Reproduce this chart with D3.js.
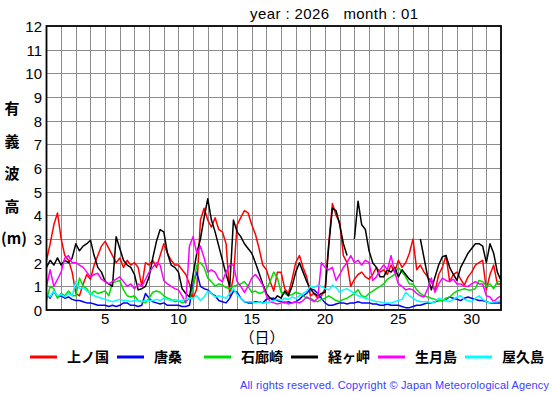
<!DOCTYPE html>
<html>
<head>
<meta charset="utf-8">
<script src="https://cdn.jsdelivr.net/npm/d3@7"></script>
<style>
  body { margin: 0; background: #fff; }
  text { font-family: "Liberation Sans", Arial, sans-serif; }
  .jp { font-family: "Noto Sans CJK JP", sans-serif; }
</style>
</head>
<body>
<svg id="chart" width="555" height="395"></svg>
<script>
// stations (legend order) and their colours
const stations = ["上ノ国", "唐桑", "石廊崎", "経ヶ岬", "生月島", "屋久島"];
const colors = ["#ff0000", "#0000ff", "#00dd00", "#000000", "#ff00ff", "#00ffff"];
const yTicks = [0, 1, 2, 3, 4, 5, 6, 7, 8, 9, 10, 11, 12];
const xTicks = [5, 10, 15, 20, 25, 30];
const yLabel = ["有", "義", "波", "高", "(m)"];

// significant wave height (m), every 6 hours from day 1 00h to day 32 00h
const kaminokuni = [
  2.1, 2.8, 3.6, 4.1,  3.0, 2.3, 2.1, 1.6,  0.7, 0.6, 1.1, 1.5,  1.3, 1.9, 2.3, 2.7,
  2.9, 2.6, 2.3, 2.0,  2.2, 1.8, 2.1, 1.9,  2.0, 1.8, 1.0, 2.0,  1.9, 2.1, 1.8, 2.3,
  2.8, 2.4, 2.1, 1.9,  1.9, 1.7, 1.5, 1.1,  0.5, 0.9, 3.8, 4.3,  3.8, 3.5, 3.9, 3.4,
  3.3, 2.8, 0.6, 1.4,  3.6, 3.9, 4.2, 4.1,  3.6, 3.2, 2.6, 1.9,  1.7, 1.2, 0.8, 1.6,
  1.6, 0.9, 0.7, 1.3,  2.0, 2.3, 1.8, 1.4,  0.6, 0.7, 0.5, 0.6,  0.9, 2.8, 4.5, 4.0,
  3.7, 2.3, 2.0, 1.0,  1.3, 1.5, 1.6, 1.4,  1.3, 1.5, 1.8, 1.6,  1.7, 1.5, 1.9, 1.6,
  2.1, 1.8, 2.0, 2.4,  3.0, 1.7, 1.9, 1.6,  1.4, 1.2, 0.8, 1.5,  1.8, 2.3, 1.2, 1.5,
  1.6, 1.3, 1.05, 1.4, 1.6, 1.9, 2.0, 2.1,  0.85, 1.5, 1.9, 1.1,  1.1
];
const karakuwa = [
  0.7, 0.5, 0.8, 0.55, 0.6, 0.5, 0.55, 0.45, 0.4, 0.4, 0.35, 0.3, 0.3, 0.25, 0.2, 0.2,
  0.2, 0.15, 0.2, 0.15, 0.2, 0.3, 0.3, 0.2,  0.2, 0.15, 0.2, 0.7,  0.5, 0.35, 0.3, 0.25,
  0.3, 0.2, 0.2, 0.2,  0.2, 0.15, 0.15, 0.2, 1.1, 1.6, 1.0, 0.9,  0.85, 0.7, 0.6, 0.4,
  0.35, 0.3, 0.5, 0.8, 0.75, 0.5, 0.35, 0.3, 0.3, 0.35, 0.35, 0.3, 0.45, 0.5, 0.5, 0.4,
  0.35, 0.3, 0.35, 0.3, 0.35, 0.45, 0.6, 0.7, 0.9, 0.85, 0.7, 0.5, 0.3, 0.2, 0.2, 0.25,
  0.3, 0.3, 0.25, 0.3, 0.3, 0.35, 0.3, 0.3,  0.3, 0.25, 0.25, 0.2, 0.2, 0.25, 0.2, 0.2,
  0.2, 0.15, 0.1, 0.1, 0.15, 0.2, 0.2, 0.25, 0.3, 0.3, 0.35, 0.4,  0.4, 0.45, 0.55, 0.5,
  0.45, 0.4, 0.5, 0.55, 0.5, 0.45, 0.4, 0.4, 0.35, 0.3, 0.3, 0.3,  0.3
];
const irouzaki = [
  0.4, 1.0, 0.9, 0.5,  0.7, 0.6, 0.8, 0.6,  0.6, 1.35, 1.0, 0.9, 0.65, 0.8, 0.7, 0.75,
  0.8, 0.6, 1.15, 1.2, 1.25, 0.85, 0.6, 0.55, 0.6, 0.4, 0.35, 0.3, 0.5, 0.75, 0.8, 0.75,
  0.6, 0.5, 0.45, 0.35, 0.4, 0.3, 0.35, 0.5, 0.9, 1.9, 2.0, 1.8,  1.35, 1.2, 1.0, 1.1,
  1.05, 0.95, 0.9, 1.0, 1.05, 1.1, 1.2, 1.0, 0.75, 0.8, 0.7, 0.75, 0.9, 1.2, 1.6, 1.35,
  0.75, 0.7, 0.6, 0.65, 0.75, 0.7, 0.6, 0.5, 0.5, 0.4, 0.35, 0.45, 0.5, 0.6, 0.5, 0.4,
  0.35, 0.45, 0.5, 0.6, 0.7, 0.85, 0.6, 0.55, 0.7, 0.8, 0.9, 1.0,  1.1, 1.3, 1.4, 1.5,
  1.8, 1.6, 1.4, 1.1,  1.1, 0.85, 0.7, 0.6, 0.55, 0.5, 0.45, 0.4, 0.4, 0.5, 0.55, 0.7,
  0.8, 0.85, 0.9, 0.85, 0.85, 0.9, 1.25, 1.2, 1.0, 1.1, 0.9, 1.2,  1.2
];
const kyougamisaki = [
  1.8, 2.1, 1.9, 2.2,  1.9, 2.1, 2.0, 2.2,  2.8, 2.5, 2.7, 2.8,  2.95, 2.3, 1.8, 1.6,
  1.2, 1.1, 1.0, 3.1,  2.6, 2.1, 1.9, 1.8,  1.5, 0.85, 0.9, 1.0, 1.4, 2.2, 2.9, 3.4,
  3.3, 2.4, 1.9, 1.8,  1.6, 0.9, 0.7, 0.55, 1.5, 2.4, 3.0, 3.9,  4.7, 3.8, 3.3, 2.7,
  2.1, 1.5, 1.0, 3.8,  3.3, 3.1, 2.8, 2.6,  2.4, 2.0, 1.55, 1.1, 0.7, 0.5, 0.4, 0.6,
  0.5, 0.8, 0.6, 1.0,  1.6, 2.0, 1.6, 1.2,  0.9, 0.7, 0.6, 0.7,  0.75, 2.7, 4.3, 4.2,
  3.6, 2.8, 2.3, null, 3.0, 4.6, 3.6, 3.4,  2.5, 2.0, 1.8, 1.4,  1.4, 1.7, 1.6, 1.8,
  1.4, 1.7, 1.5, 1.3,  1.2, null, 3.0, 2.2, 1.4, 0.85, 1.4, 1.9, 2.25, 2.3, 1.8, 1.5,
  1.25, 1.8, 2.1, 2.4, 2.6, 2.8, 2.8, 2.7,  2.0, 2.8, 2.4, 1.6,  1.25
];
const ikitsukishima = [
  1.0, 1.7, 1.0, 1.3,  1.6, 2.2, 2.3, 2.0,  2.0, 1.9, 1.8, 1.6,  1.4, 1.5, 1.55, 1.3,
  1.2, 1.1, 1.2, 1.3,  1.4, 1.2, 1.0, 1.1,  0.9, 1.1, 1.0, 1.3,  1.6, 1.8, 2.0, 1.9,
  1.25, 1.1, 1.0, 0.9, 0.85, 0.6, 0.3, 2.7, 3.1, 2.4, 2.7, 2.2,  1.6, 1.7, 1.6, 1.3,
  1.2, 1.6, 1.9, 1.9,  1.2, 1.0, 0.75, 1.0, 1.35, 1.5, 1.3, 1.05, 0.6, 0.35, 0.3, 0.25,
  0.3, 0.35, 0.25, 0.3, 0.35, 0.3, 0.4, 0.55, 0.45, 0.35, 0.5, 2.0, 1.8, 1.7, 1.8, 1.25,
  1.5, 1.8, 2.0, 2.3,  2.0, 2.1, 1.9, 2.1,  2.0, 1.25, 1.4, 1.7, 1.9, 1.7, 2.3, 1.6,
  1.1, 1.0, 0.85, 0.9, 0.85, 0.7, 0.6, 0.55, 0.9, 1.35, 0.75, 1.1, 1.35, 1.25, 1.2, 1.3,
  1.1, 1.1, 1.0, 1.0,  1.1, 1.2, 1.1, 1.1,  0.6, 0.55, 0.35, 0.5, 0.6
];
const yakushima = [
  0.7, 0.55, 0.8, 0.6, 0.65, 0.55, 0.7, 0.6, 1.2, 0.9, 0.95, 0.8, 0.7, 0.6, 0.55, 0.5,
  0.45, 0.4, 0.35, 0.4, 0.45, 0.4, 0.4, 0.35, 0.4, 0.4, 0.35, 0.4, 0.4, 0.4, 0.45, 0.4,
  0.5, 0.45, 0.4, 0.45, 0.4, 0.4, 0.45, 0.5, 0.5, 0.6, 0.4, 0.55, 0.8, 0.7, 0.55, 0.6,
  0.55, 0.5, 0.7, 0.9, 0.65, 0.5, 0.35, 0.35, 0.35, 0.3, 0.35, 0.3, 0.3, 0.35, 0.4, 0.45,
  0.4, 0.5, 0.45, 0.55, 0.5, 0.6, 0.7, 0.8,  1.0, 0.95, 1.05, 1.0, 0.9, 0.85, 1.05, 0.95,
  0.75, 0.85, 0.9, 0.8, 0.7, 0.6, 0.55, 0.5, 0.45, 0.4, 0.35, 0.35, 0.3, 0.3, 0.3, 0.35,
  0.4, 0.45, 0.75, 0.6, 0.5, 0.4, 0.35, 0.35, 0.35, 0.3, 0.35, 0.5, 0.45, 0.4, 0.35, 0.45,
  0.55, 0.6, 0.45, 0.4, 0.35, 0.5, 0.6, 0.45, 0.35, 0.3, 0.35, 0.35, 0.4
];
const series = [kaminokuni, karakuwa, irouzaki, kyougamisaki, ikitsukishima, yakushima];

const svg = d3.select("#chart");
const plotLeft = 46.5, plotRight = 501, plotTop = 26, plotBottom = 310;

const x = d3.scaleLinear().domain([1, 32]).range([plotLeft, plotRight]);
const y = d3.scaleLinear().domain([0, 12]).range([plotBottom, plotTop]);

// grid
const grid = svg.append("g").attr("stroke", "#8c8c8c").attr("stroke-width", 1);
grid.selectAll(".vg")
  .data(d3.range(2, 32))
  .join("line")
  .attr("x1", (d) => Math.round(x(d)) + 0.5)
  .attr("x2", (d) => Math.round(x(d)) + 0.5)
  .attr("y1", plotTop)
  .attr("y2", plotBottom);
grid.selectAll(".hg")
  .data(yTicks.slice(1, -1))
  .join("line")
  .attr("x1", plotLeft)
  .attr("x2", plotRight)
  .attr("y1", (d) => Math.round(y(d)) + 0.5)
  .attr("y2", (d) => Math.round(y(d)) + 0.5);

// lines
const line = d3.line()
  .defined((d) => d != null)
  .x((d, i) => x(1 + i / 4))
  .y((d) => y(d));

svg.append("g")
  .selectAll("path")
  .data(series)
  .join("path")
  .attr("d", line)
  .attr("fill", "none")
  .attr("stroke", (d, i) => colors[i])
  .attr("stroke-width", 1.5)
  .attr("stroke-linejoin", "round");

// frame
svg.append("rect")
  .attr("x", plotLeft)
  .attr("y", plotTop)
  .attr("width", plotRight - plotLeft)
  .attr("height", plotBottom - plotTop)
  .attr("fill", "none")
  .attr("stroke", "#000")
  .attr("stroke-width", 1.8);

// y tick labels
svg.append("g")
  .selectAll("text")
  .data(yTicks)
  .join("text")
  .attr("x", 42)
  .attr("y", (d) => y(d) + 6)
  .attr("text-anchor", "end")
  .attr("font-size", 15)
  .text((d) => d);

// x tick labels
svg.append("g")
  .selectAll("text")
  .data(xTicks)
  .join("text")
  .attr("x", (d) => x(d))
  .attr("y", 324)
  .attr("text-anchor", "middle")
  .attr("font-size", 15)
  .text((d) => d);

// title
svg.append("text")
  .attr("x", 250)
  .attr("y", 19)
  .attr("font-size", 15)
  .attr("textLength", 168)
  .attr("lengthAdjust", "spacing")
  .style("white-space", "pre")
  .text("year : 2026   month : 01");

// axis titles
svg.append("text")
  .attr("class", "jp")
  .attr("x", 262)
  .attr("y", 343)
  .attr("text-anchor", "middle")
  .attr("font-size", 15)
  .text("（日）");

svg.append("g")
  .selectAll("text")
  .data(yLabel)
  .join("text")
  .attr("class", "jp")
  .attr("x", (d) => (d.length > 1 ? 14 : 12))
  .attr("y", (d, i) => 114 + i * 32.5)
  .attr("text-anchor", "middle")
  .attr("font-size", 15)
  .attr("font-weight", "bold")
  .text((d) => d);

// legend
const legend = svg.append("g")
  .selectAll("g")
  .data(stations)
  .join("g")
  .attr("transform", (d, i) => `translate(${30 + i * 87},357)`);
legend.append("line")
  .attr("x1", 0)
  .attr("x2", 27)
  .attr("stroke", (d, i) => colors[i])
  .attr("stroke-width", 3);
legend.append("text")
  .attr("class", "jp")
  .attr("x", 37)
  .attr("y", 5)
  .attr("font-size", 14)
  .attr("font-weight", "bold")
  .text((d) => d);

// copyright
svg.append("text")
  .attr("x", 240)
  .attr("y", 389)
  .attr("font-size", 11)
  .attr("fill", "#3c3cff")
  .attr("textLength", 309)
  .attr("lengthAdjust", "spacing")
  .text("All rights reserved. Copyright © Japan Meteorological Agency");
</script>
</body>
</html>
